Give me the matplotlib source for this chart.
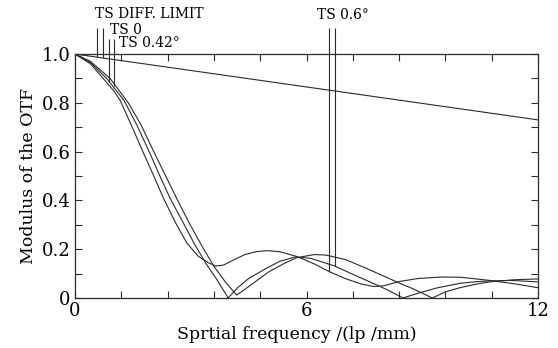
import numpy
import matplotlib
matplotlib.use('Agg')
import matplotlib.pyplot as plot
from matplotlib.ticker import FixedLocator, FuncFormatter

# MTF curves (lp/mm, modulus)
freq_dl = [0, 12]
mtf_dl = [1.0, 0.73]

freq_a = [0, 0.4, 0.73, 1.0, 1.17, 1.47, 1.8, 2.0, 2.29, 2.6, 2.9, 3.2, 3.45, 3.65, 3.85, 4.1,
          4.4, 4.7, 4.97, 5.3, 5.75, 6.2, 6.59, 7.0, 7.4, 7.73, 8.0, 8.42, 8.9, 9.5, 10.0,
          10.75, 11.4, 12]
mtf_a = [1.0, 0.96, 0.9, 0.85, 0.81, 0.705, 0.585, 0.515, 0.41, 0.31, 0.225, 0.17, 0.145,
         0.131, 0.135, 0.155, 0.178, 0.19, 0.194, 0.19, 0.17, 0.14, 0.108, 0.08, 0.058, 0.047,
         0.05, 0.068, 0.08, 0.086, 0.085, 0.072, 0.058, 0.042]

freq_b = [0, 0.4, 0.82, 1.27, 1.6, 1.95, 2.2, 2.46, 2.8, 3.1, 3.4, 3.7, 3.97, 4.2, 4.5, 4.92,
          5.3, 5.7, 6.1, 6.73, 7.3, 7.73, 8.1, 8.5, 8.9, 9.4, 9.97, 10.4, 10.75, 11.3, 12]
mtf_b = [1.0, 0.965, 0.9, 0.81, 0.71, 0.59, 0.50, 0.41, 0.31, 0.22, 0.14, 0.07, 0.0, 0.04, 0.08,
         0.118, 0.15, 0.168, 0.163, 0.131, 0.09, 0.06, 0.033, 0.0, 0.02, 0.042, 0.06, 0.067,
         0.07, 0.072, 0.066]

freq_c = [0, 0.4, 0.91, 1.38, 1.71, 2.07, 2.35, 2.63, 2.95, 3.3, 3.6, 3.9, 4.19, 4.4, 4.7, 5.0,
          5.4, 5.74, 6.2, 6.5, 7.0, 7.5, 8.0, 8.42, 8.8, 9.26, 9.6, 9.97, 10.4, 10.75, 11.4, 12]
mtf_c = [1.0, 0.97, 0.9, 0.8, 0.71, 0.59, 0.50, 0.41, 0.31, 0.21, 0.13, 0.065, 0.012, 0.035,
         0.07, 0.105, 0.14, 0.165, 0.178, 0.176, 0.158, 0.125, 0.09, 0.06, 0.035, 0.0, 0.025,
         0.042, 0.057, 0.066, 0.075, 0.078]

# label pointer lines
pointer_x = [0.57, 0.73, 0.89, 1.02, 6.59, 6.73]
pointer_top = [1.105, 1.105, 1.06, 1.06, 1.105, 1.105]
pointer_bottom = [0.987, 0.984, 0.885, 0.87, 0.108, 0.131]

labels = ['TS DIFF. LIMIT', 'TS 0', 'TS 0.42°', 'TS 0.6°']
label_x = [0.52, 0.91, 1.14, 6.27]
label_y = [1.164, 1.10, 1.045, 1.16]

x_ticks = [0, 1.2, 2.4, 3.6, 4.8, 6, 7.2, 8.4, 9.6, 10.8, 12]
x_labels = {0: '0', 6: '6', 12: '12'}
y_ticks = [0, 0.1, 0.2, 0.3, 0.4, 0.5, 0.6, 0.7, 0.8, 0.9, 1.0]
y_labels = {0: '0', 0.2: '0.2', 0.4: '0.4', 0.6: '0.6', 0.8: '0.8', 1.0: '1.0'}

plot.rcParams['font.family'] = 'DejaVu Serif'
ink = '#2a2a2a'

fig = plot.figure(figsize=(5.58, 3.48), dpi=100)
ax = fig.add_axes([0.1344, 0.1437, 0.8298, 0.7011])

for f, m in ((freq_dl, mtf_dl), (freq_a, mtf_a), (freq_b, mtf_b), (freq_c, mtf_c)):
    ax.plot(f, m, color=ink, linewidth=0.8)

ax.vlines(pointer_x, pointer_bottom, pointer_top, color=ink, linewidth=0.8, clip_on=False)
for txt, tx, ty in zip(labels, label_x, label_y):
    ax.text(tx, ty, txt, fontsize=10, va='center', ha='left', color='black', clip_on=False)

ax.set_xlim(0, 12)
ax.set_ylim(0, 1.0)
ax.xaxis.set_major_locator(FixedLocator(x_ticks))
ax.yaxis.set_major_locator(FixedLocator(y_ticks))
ax.xaxis.set_major_formatter(FuncFormatter(lambda v, p: x_labels.get(round(v, 1), '')))
ax.yaxis.set_major_formatter(FuncFormatter(lambda v, p: y_labels.get(round(v, 1), '')))
ax.tick_params(direction='in', length=5, width=0.8, top=True, right=True,
               labelsize=13, colors=ink, labelcolor='black', pad=3)
for s in ax.spines.values():
    s.set_linewidth(0.9)
    s.set_color(ink)

ax.set_xlabel('Sprtial frequency /(lp /mm)', fontsize=12.5)
ax.xaxis.set_label_coords(0.48, -0.115)
ax.set_ylabel('Modulus of the OTF', fontsize=12.5)
ax.yaxis.set_label_coords(-0.083, 0.5)

plot.savefig('out.png', dpi=100)
